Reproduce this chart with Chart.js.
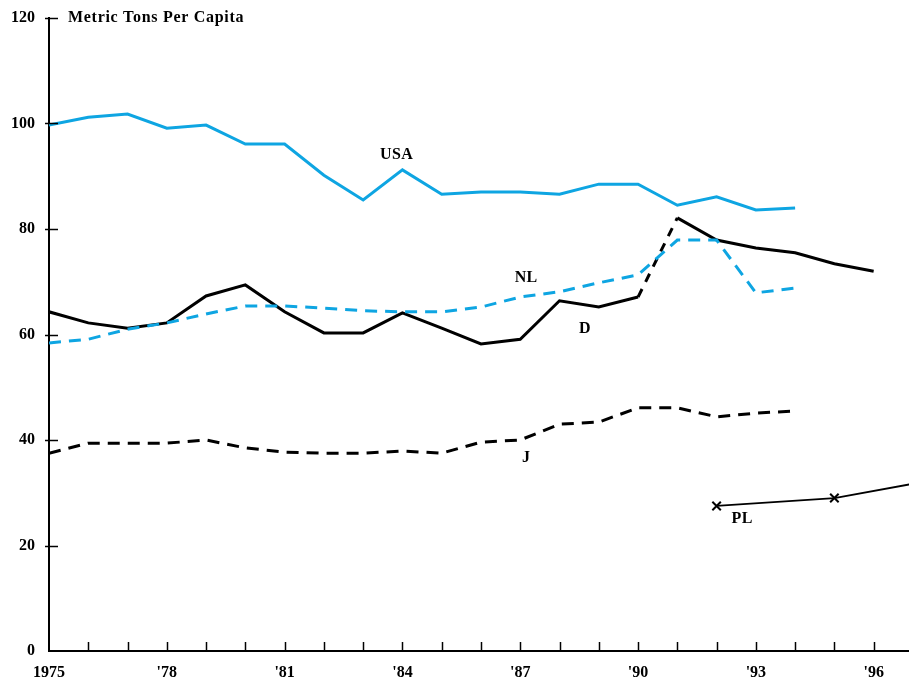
<!DOCTYPE html>
<html lang="en">
<head>
<meta charset="UTF-8">
<title>Metric Tons Per Capita</title>
<script src="https://cdn.jsdelivr.net/npm/chart.js"></script>
<style>
  html, body { margin: 0; padding: 0; background: #fff; overflow: hidden; }
  .chart-box { width: 909px; height: 684px; position: relative; }
</style>
</head>
<body>
<div class="chart-box"><canvas id="capitaChart"></canvas></div>
<script>
// values
const usaYears = [1975,1976,1977,1978,1979,1980,1981,1982,1983,1984,1985,1986,1987,1988,1989,1990,1991,1992,1993,1994];
const usaValues = [99.7,101.2,101.8,99.1,99.7,96.1,96.1,90.2,85.5,91.2,86.6,87.0,87.0,86.6,88.5,88.5,84.5,86.1,83.6,84.0];

const nlYears = [1975,1976,1977,1978,1979,1980,1981,1982,1983,1984,1985,1986,1987,1988,1989,1990,1991,1992,1993,1994];
const nlValues = [58.4,59.1,61.0,62.2,63.9,65.4,65.4,65.0,64.5,64.3,64.3,65.2,67.1,68.1,69.8,71.3,77.9,77.9,67.9,68.8];

const dYears = [1975,1976,1977,1978,1979,1980,1981,1982,1983,1984,1985,1986,1987,1988,1989,1990,1991,1992,1993,1994,1995,1996];
const dValues = [64.3,62.2,61.2,62.2,67.3,69.4,64.3,60.3,60.3,64.1,61.2,58.2,59.1,66.4,65.2,67.1,82.1,77.9,76.4,75.5,73.4,72.0];

const jYears = [1975,1976,1977,1978,1979,1980,1981,1982,1983,1984,1985,1986,1987,1988,1989,1990,1991,1992,1993,1994];
const jValues = [37.5,39.4,39.4,39.4,40.0,38.5,37.7,37.5,37.5,37.9,37.5,39.6,40.0,43.0,43.4,46.1,46.1,44.4,45.1,45.5];

const plYears = [1992,1995,1997];
const plValues = [27.5,29.0,31.7];

const xLabelYears = [1975,1978,1981,1984,1987,1990,1993,1996];
const xLabelTexts = ['1975',"'78","'81","'84","'87","'90","'93","'96"];

const BLUE = '#0ea5e2';
const FONT = '"Liberation Serif", "DejaVu Serif", serif';

function pts(xs, ys) { return xs.map((x, i) => ({ x: x, y: ys[i] })); }

// where the series names sit (in data units)
const seriesTags = [
    { text: 'USA', x: 1983.85, y: 94.0 },
    { text: 'NL',  x: 1987.15, y: 70.7 },
    { text: 'D',   x: 1988.65, y: 61.0 },
    { text: 'J',   x: 1987.15, y: 36.6 },
    { text: 'PL',  x: 1992.65, y: 25.0 }
];

const decorPlugin = {
    id: 'decor',
    afterDraw(chart) {
        const c = chart.ctx, xs = chart.scales.x, ys = chart.scales.y;
        const area = chart.chartArea;
        c.save();
        c.strokeStyle = '#000';
        c.lineWidth = 1.5;
        // tick marks on the year axis, pointing up
        for (let yr = 1976; yr <= 1996; yr++) {
            const px = Math.round(xs.getPixelForValue(yr)) + 0.5;
            c.beginPath();
            c.moveTo(px, area.bottom - 9);
            c.lineTo(px, area.bottom + 1);
            c.stroke();
        }
        // tick marks on the value axis
        for (let v = 20; v <= 120; v += 20) {
            const py = Math.round(ys.getPixelForValue(v)) + 0.5;
            c.beginPath();
            c.moveTo(area.left - 4, py);
            c.lineTo(area.left + 9, py);
            c.stroke();
        }
        c.fillStyle = '#000';
        c.font = 'bold 16px ' + FONT;
        c.textBaseline = 'middle';
        c.textAlign = 'left';
        c.letterSpacing = '0.7px';
        c.fillText('Metric Tons Per Capita', area.left + 19, ys.getPixelForValue(120));
        c.letterSpacing = '0.3px';
        c.textAlign = 'center';
        seriesTags.forEach(t => {
            c.fillText(t.text, xs.getPixelForValue(t.x), ys.getPixelForValue(t.y));
        });
        c.restore();
    }
};

const ctx = document.getElementById('capitaChart').getContext('2d');
new Chart(ctx, {
    type: 'line',
    data: {
        datasets: [
            { label: 'USA', data: pts(usaYears, usaValues), borderColor: BLUE, borderWidth: 3, pointRadius: 0, tension: 0 },
            { label: 'NL', data: pts(nlYears, nlValues), borderColor: BLUE, borderWidth: 3, borderDash: [12, 8], pointRadius: 0, tension: 0 },
            {
                label: 'D', data: pts(dYears, dValues), borderColor: '#000', borderWidth: 3, pointRadius: 0, tension: 0,
                segment: { borderDash: s => (s.p0DataIndex === 15 ? [9, 8] : undefined) }
            },
            { label: 'J', data: pts(jYears, jValues), borderColor: '#000', borderWidth: 3, borderDash: [12, 8], pointRadius: 0, tension: 0 },
            {
                label: 'PL', data: pts(plYears, plValues), borderColor: '#000', borderWidth: 1.8, tension: 0,
                pointStyle: 'crossRot', pointRadius: [6, 6, 0], pointBorderWidth: 2, pointBorderColor: '#000'
            }
        ]
    },
    options: {
        responsive: true,
        maintainAspectRatio: false,
        animation: false,
        layout: { autoPadding: false, padding: { top: 18, right: 0, bottom: 0, left: 0 } },
        plugins: { legend: { display: false }, tooltip: { enabled: false } },
        scales: {
            x: {
                type: 'linear',
                min: 1975,
                max: 1996.9,
                afterFit: s => { s.height = 33; s.paddingLeft = 0; s.paddingRight = 0; },
                border: { color: '#000', width: 2 },
                grid: { display: false, drawTicks: false },
                ticks: {
                    stepSize: 1,
                    includeBounds: false,
                    autoSkip: false,
                    maxRotation: 0,
                    padding: 12,
                    color: '#000',
                    font: { family: FONT, size: 16, weight: 'bold' },
                    callback: v => {
                        const i = xLabelYears.indexOf(v);
                        return i >= 0 ? xLabelTexts[i] : '';
                    }
                }
            },
            y: {
                min: 0,
                max: 120,
                afterFit: s => { s.width = 49; s.paddingTop = 0; s.paddingBottom = 0; },
                border: { color: '#000', width: 2 },
                grid: { display: false, drawTicks: false },
                ticks: {
                    stepSize: 20,
                    padding: 14,
                    color: '#000',
                    font: { family: FONT, size: 16, weight: 'bold' }
                }
            }
        }
    },
    plugins: [decorPlugin]
});
</script>
</body>
</html>
